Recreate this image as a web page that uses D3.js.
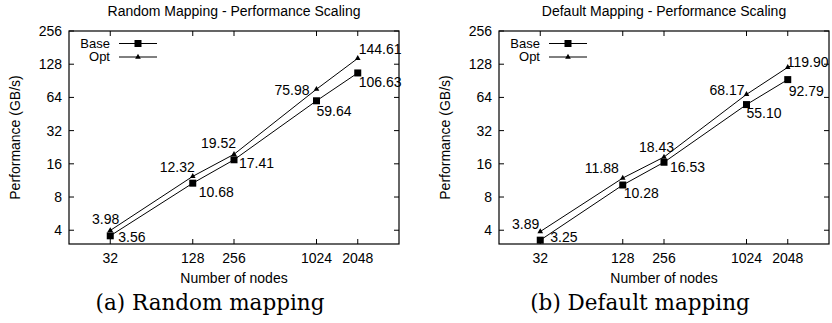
<!DOCTYPE html>
<html>
<head>
<meta charset="utf-8">
<script src="https://cdn.jsdelivr.net/npm/d3@7"></script>
<style>
  body { margin: 0; background: #fff; }
  svg text { font-family: "Liberation Sans", Arial, sans-serif; fill: #000; }
</style>
</head>
<body>
<svg id="chart" width="832" height="323"></svg>
<script>
// data
const nodes = [32, 128, 256, 1024, 2048];
const yTicks = [4, 8, 16, 32, 64, 128, 256];
const randomBase = [3.56, 10.68, 17.41, 59.64, 106.63];
const randomOpt = [3.98, 12.32, 19.52, 75.98, 144.61];
const defaultBase = [3.25, 10.28, 16.53, 55.10, 92.79];
const defaultOpt = [3.89, 11.88, 18.43, 68.17, 119.90];
const titles = ["Random Mapping - Performance Scaling", "Default Mapping - Performance Scaling"];
const captions = ["(a) Random mapping", "(b) Default mapping"];

// hand placement of the value labels [anchor, dx, dy]
const randomBaseLbl = [["start", 8, 1], ["start", 6, 9], ["start", 5, 3], ["start", 0, 10], ["start", 1, 9]];
const randomOptLbl = [["end", 9, -11], ["end", 2, -9], ["end", 2, -11], ["end", -7, 1], ["start", 1, -9]];
const defaultBaseLbl = [["start", 10, -3], ["start", 1, 8], ["start", 6, 5], ["start", 0, 9], ["start", 1, 11]];
const defaultOptLbl = [["end", -1, -7], ["end", -4, -10], ["end", 10, -10], ["end", -2, -4], ["start", -1, -5]];

const fs = 14;
const svg = d3.select("#chart");

function drawPanel(left, right, capX, idx, base, opt, baseLbl, optLbl) {
  const top = 31, bottom = 244;
  const g = svg.append("g");

  const x = d3.scaleLog().base(2).domain([16, 4096]).range([left, right]);
  const y = d3.scaleLog().base(2).domain([3, 256]).range([bottom, top]);

  // ticks, mirrored on all sides, pointing inward
  const tk = 5;
  nodes.forEach(n => {
    g.append("line").attr("x1", x(n)).attr("x2", x(n)).attr("y1", bottom).attr("y2", bottom - tk).attr("stroke", "#000");
    g.append("line").attr("x1", x(n)).attr("x2", x(n)).attr("y1", top).attr("y2", top + tk).attr("stroke", "#000");
  });
  yTicks.forEach(v => {
    g.append("line").attr("x1", left).attr("x2", left + tk).attr("y1", y(v)).attr("y2", y(v)).attr("stroke", "#000");
    g.append("line").attr("x1", right).attr("x2", right - tk).attr("y1", y(v)).attr("y2", y(v)).attr("stroke", "#000");
  });

  g.append("rect")
    .attr("x", left).attr("y", top)
    .attr("width", right - left).attr("height", bottom - top)
    .attr("fill", "none").attr("stroke", "#000").attr("stroke-width", 1.2);

  g.selectAll(".xt").data(nodes).join("text")
    .attr("x", d => x(d)).attr("y", bottom + 19)
    .attr("text-anchor", "middle").attr("font-size", fs)
    .text(d => d);

  g.selectAll(".yt").data(yTicks).join("text")
    .attr("x", left - 7).attr("y", d => y(d))
    .attr("dy", "0.35em")
    .attr("text-anchor", "end").attr("font-size", fs)
    .text(d => d);

  g.append("text")
    .attr("x", (left + right) / 2).attr("y", 16)
    .attr("text-anchor", "middle").attr("font-size", fs)
    .text(titles[idx]);

  g.append("text")
    .attr("x", (left + right) / 2).attr("y", 283)
    .attr("text-anchor", "middle").attr("font-size", fs)
    .text("Number of nodes");

  g.append("text")
    .attr("transform", `translate(${left - 54},${(top + bottom) / 2}) rotate(-90)`)
    .attr("dy", "0.35em")
    .attr("text-anchor", "middle").attr("font-size", fs)
    .text("Performance (GB/s)");

  g.append("text")
    .attr("x", capX).attr("y", 310)
    .attr("text-anchor", "middle")
    .style("font-family", "'DejaVu Serif', serif")
    .attr("font-size", 21.5)
    .text(captions[idx]);

  const line = d3.line().x((d, i) => x(nodes[i])).y(d => y(d));

  [base, opt].forEach(s => {
    g.append("path").attr("d", line(s)).attr("fill", "none").attr("stroke", "#000").attr("stroke-width", 1);
  });

  const sq = 7;
  g.selectAll(".sq").data(base).join("rect")
    .attr("x", (d, i) => x(nodes[i]) - sq / 2)
    .attr("y", d => y(d) - sq / 2)
    .attr("width", sq).attr("height", sq)
    .attr("fill", "#000");

  const tri = d3.symbol().type(d3.symbolTriangle).size(14);
  g.selectAll(".tri").data(opt).join("path")
    .attr("transform", (d, i) => `translate(${x(nodes[i])},${y(d)})`)
    .attr("d", tri)
    .attr("fill", "#000");

  g.selectAll(".bl").data(base).join("text")
    .attr("x", (d, i) => x(nodes[i]) + baseLbl[i][1])
    .attr("y", (d, i) => y(d) + baseLbl[i][2])
    .attr("dy", "0.35em")
    .attr("text-anchor", (d, i) => baseLbl[i][0])
    .attr("font-size", fs)
    .text(d => d.toFixed(2));

  g.selectAll(".ol").data(opt).join("text")
    .attr("x", (d, i) => x(nodes[i]) + optLbl[i][1])
    .attr("y", (d, i) => y(d) + optLbl[i][2])
    .attr("dy", "0.35em")
    .attr("text-anchor", (d, i) => optLbl[i][0])
    .attr("font-size", fs)
    .text(d => d.toFixed(2));

  // legend
  const ly = [top + 12.5, top + 26];
  ["Base", "Opt"].forEach((name, i) => {
    g.append("text")
      .attr("x", left + 41).attr("y", ly[i]).attr("dy", "0.33em")
      .attr("text-anchor", "end").attr("font-size", 13)
      .text(name);
    g.append("line")
      .attr("x1", left + 50).attr("x2", left + 88)
      .attr("y1", ly[i]).attr("y2", ly[i])
      .attr("stroke", "#000");
  });
  g.append("rect")
    .attr("x", left + 69 - sq / 2).attr("y", ly[0] - sq / 2)
    .attr("width", sq).attr("height", sq).attr("fill", "#000");
  g.append("path")
    .attr("transform", `translate(${left + 69},${ly[1]})`)
    .attr("d", tri).attr("fill", "#000");
}

drawPanel(69, 399, 210, 0, randomBase, randomOpt, randomBaseLbl, randomOptLbl);
drawPanel(499, 829, 640, 1, defaultBase, defaultOpt, defaultBaseLbl, defaultOptLbl);
</script>
</body>
</html>
